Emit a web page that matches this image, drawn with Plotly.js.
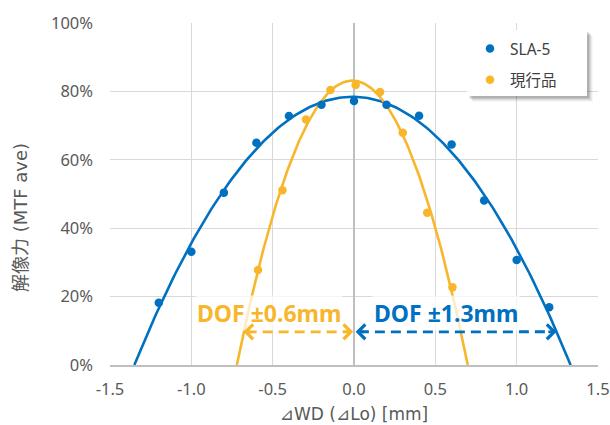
<!DOCTYPE html>
<html>
<head>
<meta charset="utf-8">
<script src="https://cdn.plot.ly/plotly-3.0.1.min.js"></script>
<style>html,body{margin:0;padding:0;background:#fff;}#chart{width:610px;height:425px;}</style>
</head>
<body>
<div id="chart"></div>
<script>
// ---- data ----
const seriesNames = ["SLA-5", "現行品"];
const slaX = [-1.2, -1.0, -0.8, -0.6, -0.4, -0.2, 0.0, 0.2, 0.4, 0.6, 0.8, 1.0, 1.2];
const slaY = [18.2, 33.1, 50.4, 65.0, 72.8, 76.1, 77.2, 76.1, 72.9, 64.5, 48.1, 30.7, 16.9];
const curX = [-0.59, -0.44, -0.295, -0.145, 0.01, 0.16, 0.30, 0.45, 0.605];
const curY = [27.8, 51.1, 71.8, 80.4, 81.9, 79.8, 67.9, 44.5, 22.7];
const xTicks = [-1.5, -1.0, -0.5, 0.0, 0.5, 1.0, 1.5];
const yTicks = [0, 20, 40, 60, 80, 100];
const xTitle = "⊿WD (⊿Lo) [mm]";
const yTitle = "解像力 (MTF ave)";
const dofLabels = ["DOF ±0.6mm", "DOF ±1.3mm"];
const dofCur = [-0.68, -0.005];   // arrow span of 現行品
const dofSla = [0.01, 1.245];     // arrow span of SLA-5

const BLUE = "#0070C0";
const GOLD = "#F8B62B";
const FONT = "Noto Sans, Noto Sans CJK JP, sans-serif";
const TFONT = "DejaVu Sans, Noto Sans CJK JP, sans-serif";

// quadratic least-squares trendline (like Excel's polynomial trendline)
function polyFit2(xs, ys) {
  let s = [0,0,0,0,0], t = [0,0,0];
  for (let i = 0; i < xs.length; i++) {
    const x = xs[i], y = ys[i];
    let p = 1;
    for (let k = 0; k < 5; k++) { s[k] += p; if (k < 3) t[k] += p * y; p *= x; }
  }
  const A = [[s[0], s[1], s[2], t[0]], [s[1], s[2], s[3], t[1]], [s[2], s[3], s[4], t[2]]];
  for (let i = 0; i < 3; i++) {
    for (let j = i + 1; j < 3; j++) {
      const f = A[j][i] / A[i][i];
      for (let k = i; k < 4; k++) A[j][k] -= f * A[i][k];
    }
  }
  const c = [0,0,0];
  for (let i = 2; i >= 0; i--) {
    let v = A[i][3];
    for (let k = i + 1; k < 3; k++) v -= A[i][k] * c[k];
    c[i] = v / A[i][i];
  }
  return c; // a + b x + c x^2
}
function fitCurve(xs, ys) {
  const [a, b, c] = polyFit2(xs, ys);
  const d = Math.sqrt(b * b - 4 * c * a);
  const r1 = (-b + d) / (2 * c), r2 = (-b - d) / (2 * c);
  const lo = Math.min(r1, r2), hi = Math.max(r1, r2);
  const fx = [], fy = [];
  const n = 200;
  for (let i = 0; i <= n; i++) {
    const x = lo + (hi - lo) * i / n;
    fx.push(x); fy.push(Math.max(0, a + b * x + c * x * x));
  }
  return {x: fx, y: fy};
}
const slaFit = fitCurve(slaX, slaY);
const curFit = fitCurve(curX, curY);

const traces = [
  {x: slaFit.x, y: slaFit.y, mode: "lines", line: {color: BLUE, width: 2.6}, showlegend: false, hoverinfo: "skip"},
  {x: curFit.x, y: curFit.y, mode: "lines", line: {color: GOLD, width: 2.6}, showlegend: false, hoverinfo: "skip"},
  {x: slaX, y: slaY, mode: "markers", name: seriesNames[0], marker: {color: BLUE, size: 8.5}, legendgroup: "a"},
  {x: curX, y: curY, mode: "markers", name: seriesNames[1], marker: {color: GOLD, size: 8.5}, legendgroup: "b"}
];

const arrowY = 9.7;
const textY = 15.2;

// plot-area geometry for the legend box (paper coords)
const L = 110, R = 598, T = 23, B = 365;
function px(xp) { return (xp - L) / (R - L); }
function py(yp) { return (B - yp) / (B - T); }

const shapes = [];
[[6, 0.03], [5, 0.05], [4, 0.07], [3, 0.09], [2, 0.10]].forEach(([o, a]) => {
  shapes.push({type: "rect", xref: "paper", yref: "paper", layer: "above",
    x0: px(467 + o), x1: px(587 + o), y0: py(96 + o), y1: py(30 + o),
    line: {width: 0}, fillcolor: "rgba(0,0,0," + a + ")"});
});
shapes.push({type: "rect", xref: "paper", yref: "paper", layer: "above",
  x0: px(467), x1: px(587), y0: py(96), y1: py(30), line: {width: 0}, fillcolor: "#ffffff"});
shapes.push({type: "line", xref: "x", yref: "y", x0: dofCur[0] + 0.02, x1: dofCur[1] - 0.02, y0: arrowY, y1: arrowY,
  line: {color: GOLD, width: 3, dash: "10px,6px"}});
shapes.push({type: "line", xref: "x", yref: "y", x0: dofSla[0] + 0.02, x1: dofSla[1] - 0.02, y0: arrowY, y1: arrowY,
  line: {color: BLUE, width: 3, dash: "10px,6px"}});

function head(x, tail, color) {
  return {x: x, y: arrowY, ax: tail, ay: arrowY, xref: "x", yref: "y", axref: "x", ayref: "y",
    text: "", showarrow: true, arrowhead: 4, arrowsize: 1.1, arrowwidth: 2.6, arrowcolor: color, standoff: 0};
}
const annotations = [
  {x: -0.52, y: textY, xref: "x", yref: "y", text: "<b>" + dofLabels[0] + "</b>", showarrow: false,
   font: {family: FONT, size: 23, color: GOLD}, bgcolor: "rgba(255,255,255,0.72)", borderpad: 1},
  {x: 0.565, y: textY, xref: "x", yref: "y", text: "<b>" + dofLabels[1] + "</b>", showarrow: false,
   font: {family: FONT, size: 23, color: BLUE}, bgcolor: "rgba(255,255,255,0.72)", borderpad: 1},
  head(dofCur[0], dofCur[0] + 0.06, GOLD),
  head(dofCur[1], dofCur[1] - 0.06, GOLD),
  head(dofSla[0], dofSla[0] + 0.06, BLUE),
  head(dofSla[1], dofSla[1] - 0.06, BLUE),
  {x: px(20), y: py(218), xref: "paper", yref: "paper", xanchor: "center", yanchor: "middle",
   text: yTitle, textangle: -90, showarrow: false,
   font: {family: TFONT, size: 18, color: "#595959"}}
];

const layout = {
  width: 610, height: 425,
  margin: {l: L, r: 610 - R, t: T, b: 425 - B},
  paper_bgcolor: "#fff", plot_bgcolor: "#fff",
  font: {family: FONT, color: "#595959"},
  showlegend: true,
  legend: {x: px(470), y: py(32), xanchor: "left", yanchor: "top", bgcolor: "rgba(0,0,0,0)", borderwidth: 0,
    font: {family: FONT, size: 15.5, color: "#404040"}, traceorder: "grouped", tracegroupgap: 8,
    itemwidth: 30},
  xaxis: {range: [-1.5, 1.5], tickvals: xTicks, ticktext: xTicks.map(v => v.toFixed(1)),
    showgrid: true, gridcolor: "#D9D9D9", gridwidth: 1,
    zeroline: true, zerolinecolor: "#BFBFBF", zerolinewidth: 1.3,
    showline: true, linecolor: "#BFBFBF", linewidth: 1.5,
    ticks: "", tickfont: {family: FONT, size: 16.5, color: "#595959"}, ticklabelstandoff: 9,
    title: {text: xTitle, font: {family: TFONT, size: 17, color: "#595959"}, standoff: 9},
    fixedrange: true},
  yaxis: {range: [0, 100], tickvals: yTicks, ticktext: yTicks.map(v => v + "%"),
    showgrid: true, gridcolor: "#D9D9D9", gridwidth: 1, zeroline: false, showline: false,
    ticks: "", tickfont: {family: FONT, size: 16.5, color: "#595959"}, ticklabelstandoff: 16,
    fixedrange: true},
  shapes: shapes,
  annotations: annotations
};

Plotly.newPlot("chart", traces, layout, {displayModeBar: false, staticPlot: true});
</script>
</body>
</html>
